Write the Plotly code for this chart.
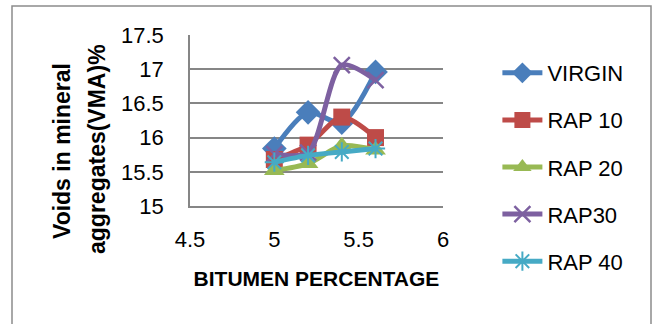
import plotly.graph_objects as go

# Bitumen content (%) and VMA (%) for each mix
bitumen = [5.0, 5.2, 5.4, 5.6]
virgin = [15.84, 16.37, 16.22, 16.96]
rap10 = [15.68, 15.89, 16.30, 16.00]
rap20 = [15.52, 15.62, 15.88, 15.82]
rap30 = [15.76, 15.78, 17.06, 16.84]
rap40 = [15.64, 15.74, 15.79, 15.84]

x_ticks = [4.5, 5, 5.5, 6]
y_ticks = [15, 15.5, 16, 16.5, 17, 17.5]

FONT = "Liberation Sans"
GRID = "#868686"

series = [
    ("VIRGIN", virgin, "#4A7EBB", dict(symbol="diamond", size=19)),
    ("RAP 10", rap10, "#BE4B48", dict(symbol="square", size=17)),
    ("RAP 20", rap20, "#98B954", dict(symbol="triangle-up", size=18)),
    ("RAP30", rap30, "#7D60A0", dict(symbol="x-thin", size=16, line=dict(width=2.5))),
    ("RAP 40", rap40, "#46AAC5", dict(symbol="asterisk", size=16, line=dict(width=2))),
]

fig = go.Figure()
for name, vals, color, mk in series:
    marker = dict(color=color, **{k: v for k, v in mk.items() if k != "line"})
    if "line" in mk:
        marker["line"] = dict(color=color, width=mk["line"]["width"])
    fig.add_trace(go.Scatter(
        x=bitumen, y=vals, name=name, mode="lines+markers",
        line=dict(color=color, width=5, shape="spline", smoothing=0.8),
        marker=marker, legendgroup=name,
    ))

W, H = 656, 324
L, R, T, B = 190, 213, 35, 118
PW, PH = W - L - R, H - T - B

fig.update_layout(
    width=W, height=H,
    margin=dict(l=L, r=R, t=T, b=B, autoexpand=False),
    paper_bgcolor="white", plot_bgcolor="white",
    font=dict(family=FONT, size=22, color="black"),
    showlegend=True,
    legend=dict(
        x=1.215, y=(H - B - 52) / PH, xanchor="left", yanchor="top",
        maxheight=400,
        font=dict(family=FONT, size=22, color="black"),
        tracegroupgap=15.5, itemwidth=40, bgcolor="rgba(0,0,0,0)",
    ),
    xaxis=dict(
        range=[4.5, 6], tickvals=x_ticks, ticktext=[f"{v:g}" for v in x_ticks],
        showgrid=False, zeroline=False, showline=True, linecolor=GRID, linewidth=1.5,
        ticks="", ticklabelstandoff=13, tickfont=dict(size=22),
        title=dict(text="<b>BITUMEN PERCENTAGE</b>", font=dict(size=21), standoff=20),
    ),
    yaxis=dict(
        range=[15, 17.5], tickvals=y_ticks, ticktext=[f"{v:g}" for v in y_ticks],
        showgrid=True, gridcolor=GRID, gridwidth=1.5, zeroline=False,
        showline=True, linecolor=GRID, linewidth=1.5,
        ticks="", ticklabelstandoff=20, tickfont=dict(size=22),
    ),
    shapes=[dict(
        type="rect", xref="paper", yref="paper",
        x0=(12 - L) / PW, x1=(651 - L) / PW,
        y0=-0.75, y1=(H - B - 6) / PH,
        line=dict(color="#8C8C8C", width=1.5), fillcolor="rgba(0,0,0,0)", layer="below",
    )],
    annotations=[
        dict(text="<b>Voids in mineral</b>", textangle=-90, xref="paper", yref="paper",
             x=(62 - L) / PW, y=(H - B - 151) / PH,
             showarrow=False, font=dict(size=23), xanchor="center", yanchor="middle"),
        dict(text="<b>aggregates(VMA)%</b>", textangle=-90, xref="paper", yref="paper",
             x=(97 - L) / PW, y=(H - B - 149) / PH,
             showarrow=False, font=dict(size=23), xanchor="center", yanchor="middle"),
    ],
)

fig.write_html("out.html")
